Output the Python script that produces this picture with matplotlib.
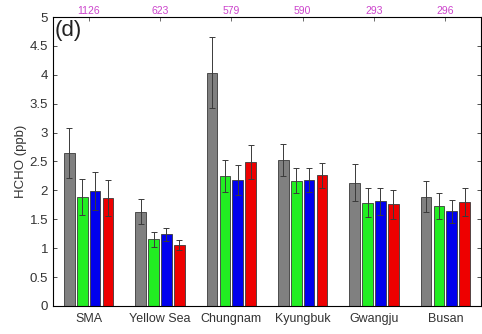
import numpy as np
import matplotlib.pyplot as plt

# =====================================
# DATA
# =====================================

regions = ["SMA", "Yellow Sea", "Chungnam", "Kyungbuk", "Gwangju", "Busan"]
counts = ["1126", "623", "579", "590", "293", "296"]

gray_vals = [2.65, 1.63, 4.04, 2.53, 2.13, 1.89]
green_vals = [1.89, 1.15, 2.25, 2.17, 1.79, 1.73]
blue_vals = [1.99, 1.24, 2.18, 2.18, 1.81, 1.64]
red_vals = [1.87, 1.05, 2.49, 2.26, 1.76, 1.80]

gray_err = [0.43, 0.22, 0.62, 0.28, 0.32, 0.27]
green_err = [0.31, 0.13, 0.27, 0.21, 0.25, 0.22]
blue_err = [0.33, 0.11, 0.26, 0.21, 0.23, 0.20]
red_err = [0.31, 0.09, 0.30, 0.22, 0.25, 0.24]

# =====================================
# PLOT
# =====================================

plt.rcParams["font.family"] = ["Liberation Sans", "DejaVu Sans"]

fig = plt.figure(figsize=(4.82, 3.34), dpi=100)
ax = fig.add_axes([0.110, 0.084, 0.888, 0.865])

x = np.arange(1, len(regions) + 1)
width = 0.15
step = 0.18

series = [
    (gray_vals, gray_err, "#808080"),
    (green_vals, green_err, "#22ee22"),
    (blue_vals, blue_err, "#0000ee"),
    (red_vals, red_err, "#ee0000"),
]

for i, (vals, errs, col) in enumerate(series):
    pos = x + (i - 1.5) * step
    ax.bar(pos, vals, width, color=col, edgecolor="#3a3a3a", linewidth=0.6, zorder=2)
    ax.errorbar(pos, vals, yerr=errs, fmt="none", ecolor="#3a3a3a",
                elinewidth=0.7, capsize=2.5, capthick=0.7, zorder=3)

ax.set_xlim(0.5, 6.5)
ax.set_ylim(0, 5)
ax.set_yticks(np.arange(0, 5.01, 0.5))
ax.set_yticklabels(["0", "0.5", "1", "1.5", "2", "2.5", "3", "3.5", "4", "4.5", "5"])
ax.set_xticks(x)
ax.set_xticklabels(regions)
ax.tick_params(axis="both", direction="in", labelsize=9.5, colors="#333333",
               length=3, width=0.6, right=True)
ax.tick_params(axis="x", length=0, pad=5, labelsize=9)
ax.set_ylabel("HCHO (ppb)", fontsize=9.5, color="#333333", labelpad=2)

for s in ax.spines.values():
    s.set_color("#888888")
    s.set_linewidth(0.7)

top = ax.twiny()
top.set_xlim(ax.get_xlim())
top.set_xticks(x)
top.set_xticklabels(counts)
top.tick_params(axis="x", direction="in", length=3, width=0.6, pad=1,
                labelsize=7.5, labelcolor="#cc44cc", color="#555555")

ax.text(0.52, 4.95, "(d)", fontsize=16, color="#222222", va="top", ha="left")

plt.savefig("out.png", dpi=100)
